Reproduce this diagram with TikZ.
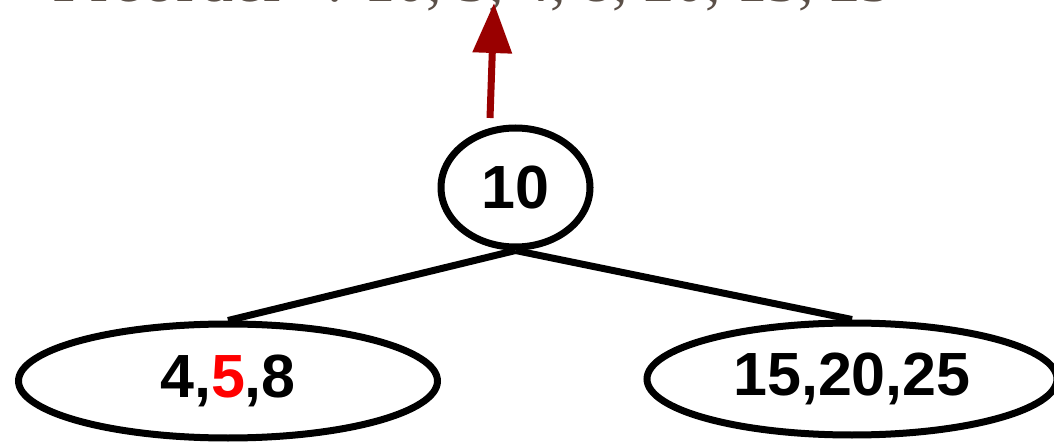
\documentclass[tikz,border=0pt]{standalone}
\usepackage{fontspec}
\setmainfont{Liberation Sans}
\newfontfamily\serifpre{Liberation Serif}
\usetikzlibrary{shapes.geometric,arrows.meta}
\definecolor{arrowred}{HTML}{990000}
\definecolor{pregray}{HTML}{5B5048}
\definecolor{redfive}{HTML}{FF0000}
\tikzset{
  treenode/.style={draw=black, line width=7pt, ellipse, inner sep=0pt,
    font=\fontsize{61}{61}\selectfont\bfseries, text=black},
  treeedge/.style={draw=black, line width=7pt},
  uparrow/.style={draw=arrowred, line width=7pt,
    -{Triangle[length=50pt,width=38pt]}, arrowred},
}
\begin{document}
\begin{tikzpicture}[x=1pt,y=-1pt]
\useasboundingbox (0,0) rectangle (1054,443);
\node[anchor=base west, inner sep=0pt, text=pregray] (pre) at (52,2)
  {\serifpre{\fontsize{68}{68}\selectfont Preorder}\hspace{40pt}{\fontsize{62}{62}\selectfont : 10, 5, 4, 8, 20, 15, 25}};
\node[treenode, minimum width=149pt, minimum height=119pt] (root) at (515.5,187.5) {10};
\node[treenode, minimum width=419pt, minimum height=114pt] (left) at (228,381) {4,\textcolor{redfive}{5},8};
\node[treenode, minimum width=410pt, minimum height=112pt] (right) at (852,379) {15,20,25};
\draw[treeedge] (root.south) -- (left.north);
\draw[treeedge] (root.south) -- (right.north);
\coordinate (arrstart) at (490,118);
\coordinate (arrtip) at (494,3);
\draw[uparrow] (arrstart) -- (arrtip);
\end{tikzpicture}
\end{document}
